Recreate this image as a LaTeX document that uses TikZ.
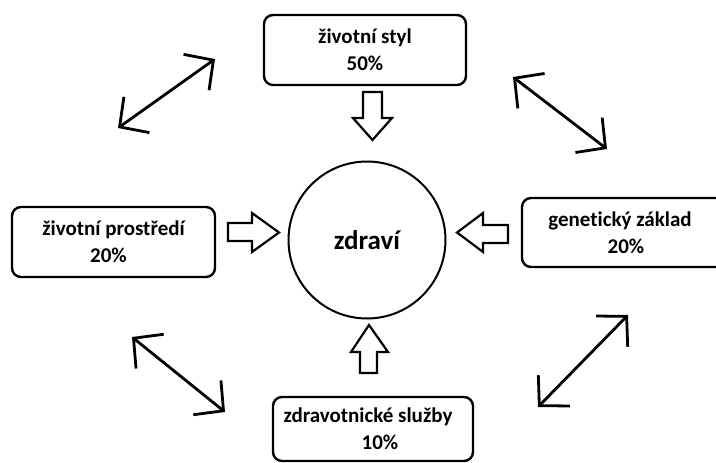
\documentclass[tikz,border=0pt]{standalone}
\usepackage{fontspec}
\setmainfont{Carlito}[Ligatures=NoCommon]
\usetikzlibrary{arrows.meta}
\tikzset{
	factor/.style={draw, line width=2.4pt, rounded corners=9pt, inner sep=0pt, align=center, font=\bfseries\fontsize{21}{27}\selectfont},
	hollow/.style={draw, line width=2.2pt, fill=white, line join=miter},
	twoway/.style={line width=2.8pt, {Straight Barb[length=21pt,width=44pt,line width=2.8pt]}-{Straight Barb[length=21pt,width=44pt,line width=2.8pt]}}
}

\begin{document}
\begin{tikzpicture}[x=1pt, y=-1pt]
		%%%%% FRAME %%%%%
		\useasboundingbox (0, 0) rectangle (716, 463);
		
		%%%%% CENTRE AND FACTORS %%%%%
		\node[draw, circle, line width=2pt, minimum size=157pt, inner sep=0pt, font=\bfseries\fontsize{27}{30}\selectfont] (health) at (367, 240) {zdraví};
		
		\node[factor, minimum width=202pt, minimum height=70pt] (style) at (365, 50) {životní styl\\50\%};
		\node[factor, minimum width=203pt, minimum height=70pt] (env) at (113.5, 242) {životní prostředí\\\hspace*{-10pt}20\%};
		\node[factor, minimum width=208pt, minimum height=69pt] (gene) at (626, 232.5) {genetický základ\hspace*{12pt}\\20\%};
		\node[factor, minimum width=200pt, minimum height=64pt] (care) at (373, 429) {zdravotnické služby\hspace*{10pt}\\\hspace*{14pt}10\%};
		
		%%%%% HOLLOW ARROWS %%%%%
		\draw[hollow] (363, 92) -- (382, 92) -- (382, 118) -- (392, 118) -- (372.5, 140) -- (353, 118) -- (363, 118) -- cycle;
		\draw[hollow] (360, 373) -- (377, 373) -- (377, 352) -- (388, 352) -- (369, 325) -- (351, 352) -- (360, 352) -- cycle;
		\draw[hollow] (228, 223) -- (252, 223) -- (252, 213) -- (279, 232.5) -- (252, 252) -- (252, 241) -- (228, 241) -- cycle;
		\draw[hollow] (508, 225) -- (483, 225) -- (483, 213) -- (457, 232.5) -- (483, 252) -- (483, 243) -- (508, 243) -- cycle;
		
		%%%%% TWO-WAY LINKS %%%%%
		\coordinate (tlA) at (118, 128);
		\coordinate (tlB) at (215, 59);
		\coordinate (trA) at (513, 77);
		\coordinate (trB) at (607, 149);
		\coordinate (blA) at (132, 337);
		\coordinate (blB) at (225, 412);
		\coordinate (brA) at (538, 407);
		\coordinate (brB) at (628, 315);
		
		\draw[twoway] (tlA) -- (tlB);
		\draw[twoway] (trA) -- (trB);
		\draw[twoway] (blA) -- (blB);
		\draw[twoway] (brA) -- (brB);
		
	\end{tikzpicture}
\end{document}
